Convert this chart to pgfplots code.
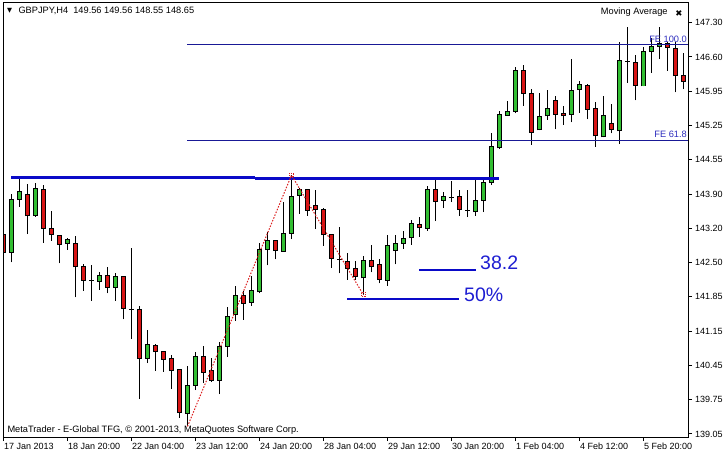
\documentclass[border=0pt]{standalone}
\usepackage{pgfplots}
\pgfplotsset{compat=1.18}
\usepackage{pgfplotstable}
\usepackage{fontspec}
\setmainfont{Liberation Sans}
\newfontfamily\dejavu{DejaVu Sans}
\definecolor{bull}{RGB}{50,190,50}
\definecolor{bear}{RGB}{215,20,20}
\definecolor{fenavy}{RGB}{25,25,150}
\definecolor{lvl}{RGB}{10,10,200}
\definecolor{txtblue}{RGB}{30,30,210}
\definecolor{felab}{RGB}{45,45,190}
\definecolor{dotred}{RGB}{220,30,30}

\pgfplotstableread{
x o h l c
1 142.69 143.86 142.49 143.76
2 143.76 144.22 143.61 143.92
4 143.43 144.08 143.41 143.98
8 142.87 142.99 142.75 142.95
12 142.11 142.30 141.94 142.23
14 141.99 142.27 141.72 142.21
18 140.57 141.14 140.47 140.85
23 139.46 140.41 139.20 140.03
24 140.03 140.70 139.93 140.60
27 140.13 140.89 139.85 140.81
28 140.81 141.60 140.60 141.40
29 141.44 142.02 141.32 141.82
31 141.69 142.22 141.62 141.92
32 141.90 142.89 141.87 142.75
33 142.75 143.11 142.43 142.93
35 142.72 143.70 142.71 143.08
36 143.08 144.24 142.96 143.82
37 143.84 143.98 143.47 143.96
45 142.18 142.61 141.84 142.53
48 142.13 143.04 142.02 142.83
49 142.73 143.04 142.45 142.87
50 142.87 143.12 142.77 142.97
51 142.99 143.34 142.85 143.28
53 143.18 144.02 143.13 143.96
55 143.74 143.90 143.58 143.81
59 143.51 144.14 143.43 143.74
60 143.73 144.16 143.50 144.09
61 144.10 145.08 144.04 144.82
62 144.79 145.52 144.77 145.46
63 145.44 145.73 145.43 145.52
64 145.52 146.41 145.48 146.34
67 145.15 145.88 145.14 145.41
68 145.43 145.95 145.35 145.58
71 145.46 146.57 145.30 145.94
72 145.96 146.13 145.49 146.07
75 145.01 145.82 145.00 145.43
77 145.13 146.91 144.87 146.55
80 146.03 146.82 146.02 146.73
81 146.72 146.99 146.30 146.83
82 146.83 147.22 146.57 146.89
}\up

\pgfplotstableread{
x o h l c
0 143.05 143.51 142.51 142.69
3 143.86 144.06 143.06 143.43
5 143.96 144.05 142.89 143.17
6 143.18 143.52 142.93 143.05
7 143.03 143.04 142.47 142.85
9 142.87 143.02 141.79 142.40
10 142.41 142.45 141.92 142.13
11 142.13 142.44 141.72 142.13
13 142.23 142.39 141.87 141.99
15 142.20 142.22 141.35 141.57
16 141.55 142.79 140.95 141.55
17 141.54 141.62 139.75 140.57
19 140.83 140.85 140.32 140.70
20 140.70 140.71 140.30 140.55
21 140.57 140.63 139.95 140.32
22 140.34 140.35 139.38 139.48
25 140.60 140.81 140.07 140.29
26 140.32 140.57 140.09 140.13
30 141.83 141.92 141.34 141.67
34 142.93 142.94 142.55 142.73
38 143.96 143.97 143.43 143.54
39 143.64 143.94 143.16 143.56
40 143.56 143.59 142.83 143.05
41 143.05 143.06 142.38 142.57
42 142.55 143.21 142.27 142.55
43 142.51 142.67 142.14 142.37
44 142.37 142.51 142.14 142.20
46 142.53 142.85 142.29 142.40
47 142.44 142.56 142.07 142.15
52 143.26 143.40 143.01 143.19
54 143.96 144.16 143.32 143.72
56 143.80 144.12 143.70 143.80
57 143.81 143.94 143.43 143.56
58 143.54 143.94 143.40 143.54
65 146.34 146.45 145.63 145.88
66 145.88 145.96 144.85 145.10
69 145.74 145.82 145.16 145.46
70 145.48 145.63 145.25 145.43
73 146.05 146.08 145.36 145.56
74 145.58 145.71 144.81 145.03
76 145.28 145.67 145.08 145.16
78 146.53 147.22 146.10 146.53
79 146.51 146.65 145.74 146.04
83 146.89 146.91 146.34 146.80
84 146.79 146.91 145.90 146.24
85 146.24 146.70 145.96 146.13
}\dn

\pgfplotsset{
  wick/.style={draw=none, mark=none,
    error bars/.cd, y dir=plus, y explicit, error mark=none,
    error bar style={draw=black, line width=1pt}},
  bodyout/.style={draw=none, mark=none,
    error bars/.cd, y dir=plus, y explicit, error mark=none,
    error bar style={draw=black, line width=5pt, line cap=butt}},
  bodyin/.style={draw=none, mark=none,
    error bars/.cd, y dir=plus, y explicit, error mark=none,
    error bar style={draw=#1, line width=3pt, line cap=butt}},
}

\begin{document}
\begin{tikzpicture}
\fill[white] (-3pt,-18pt) rectangle (725pt,437pt);
\useasboundingbox (-3pt,-18pt) rectangle (725pt,437pt);
\begin{axis}[
  at={(0pt,0pt)}, anchor=south west,
  scale only axis, width=685pt, height=434pt,
  xmin=-0.0625, xmax=85.5625, ymin=138.989, ymax=147.695,
  axis on top,
  axis line style={black, line width=1pt},
  tick style={black, line width=1pt},
  tick align=outside, major tick length=4pt,
  xtick pos=left, ytick pos=right, yticklabel pos=right,
  xtick={0,8,...,80},
  xticklabels={17 Jan 2013,18 Jan 20:00,22 Jan 04:00,23 Jan 12:00,24 Jan 20:00,28 Jan 04:00,29 Jan 12:00,30 Jan 20:00,1 Feb 04:00,4 Feb 12:00,5 Feb 20:00},
  ytick={139.05,139.7375,140.425,141.1125,141.8,142.4875,143.175,143.8625,144.55,145.2375,145.925,146.6125,147.3},
  yticklabels={139.05,139.75,140.45,141.15,141.85,142.50,143.20,143.90,144.55,145.25,145.95,146.60,147.30},
  xticklabel style={anchor=north west, inner sep=0pt, font=\fontsize{9}{10}\selectfont, xshift=0.5pt, yshift=-2pt},
  yticklabel style={anchor=west, inner sep=0pt, font=\fontsize{9}{10}\selectfont, xshift=3pt},
]
% wicks
\addplot[wick] table[x=x, y=l, y error plus expr={\thisrow{h}-\thisrow{l}}] {\up};
\addplot[wick] table[x=x, y=l, y error plus expr={\thisrow{h}-\thisrow{l}}] {\dn};
% bodies: outline
\addplot[bodyout] table[x=x, y expr={min(\thisrow{o},\thisrow{c})-0.01}, y error plus expr={abs(\thisrow{c}-\thisrow{o})+0.02}] {\up};
\addplot[bodyout] table[x=x, y expr={min(\thisrow{o},\thisrow{c})-0.01}, y error plus expr={abs(\thisrow{c}-\thisrow{o})+0.02}] {\dn};
% bodies: fill
\addplot[bodyin=bull] table[x=x, y expr={min(\thisrow{o},\thisrow{c})+0.01}, y error plus expr={max(abs(\thisrow{c}-\thisrow{o})-0.02,0)}] {\up};
\addplot[bodyin=bear] table[x=x, y expr={min(\thisrow{o},\thisrow{c})+0.01}, y error plus expr={max(abs(\thisrow{c}-\thisrow{o})-0.02,0)}] {\dn};
% horizontal objects
\addplot[lvl, line width=2.5pt] coordinates {(0.94,144.19) (31.44,144.19)};
\addplot[lvl, line width=2.5pt] coordinates {(31.44,144.17) (61.94,144.17)};
\addplot[fenavy, line width=1pt] coordinates {(22.975,146.862) (85.5625,146.862)};
\addplot[fenavy, line width=1pt] coordinates {(22.975,144.937) (85.5625,144.937)};
\addplot[lvl, line width=2pt] coordinates {(51.94,142.34) (59.06,142.34)};
\addplot[lvl, line width=2pt] coordinates {(42.94,141.76) (56.94,141.76)};
% Fibonacci expansion anchor line
\addplot[dotred, line width=1pt, dash pattern=on 1.5pt off 1.5pt, mark=square, mark size=2pt, mark indices={2,3}, mark options={dotred, line width=0.8pt, dash pattern=on 1pt off 1pt}] coordinates {(23,139.20) (36,144.24) (45,141.84)};
\end{axis}
% texts
\node[anchor=center, inner sep=0pt, font=\dejavu\fontsize{6.5}{7}\selectfont] at (6.7pt,426.2pt) {▼};
\node[anchor=base west, inner sep=0pt, font=\fontsize{9.25}{11}\selectfont] at (15.3pt,423.5pt) {GBPJPY,H4\ \ 149.56 149.56 148.55 148.65};
\node[anchor=base west, inner sep=0pt, font=\fontsize{9.25}{11}\selectfont] at (597.7pt,422.3pt) {Moving Average};
\node[anchor=center, inner sep=0pt, font=\dejavu\fontsize{8.5}{9}\selectfont] at (676pt,423.5pt) {✖};
\node[anchor=base west, inner sep=0pt, font=\fontsize{9.25}{11}\selectfont] at (4.3pt,4.5pt) {MetaTrader - E-Global TFG, © 2001-2013, MetaQuotes Software Corp.};
\node[anchor=base east, inner sep=0pt, text=felab, font=\fontsize{9.25}{11}\selectfont] at (684pt,394.5pt) {FE 100.0};
\node[anchor=base east, inner sep=0pt, text=felab, font=\fontsize{9.25}{11}\selectfont] at (684pt,299.3pt) {FE 61.8};
\node[anchor=base west, inner sep=0pt, text=txtblue, font=\fontsize{19.5}{22}\selectfont] at (477pt,167pt) {38.2};
\node[anchor=base west, inner sep=0pt, text=txtblue, font=\fontsize{19.5}{22}\selectfont] at (461pt,135pt) {50\%};
\end{tikzpicture}
\end{document}
